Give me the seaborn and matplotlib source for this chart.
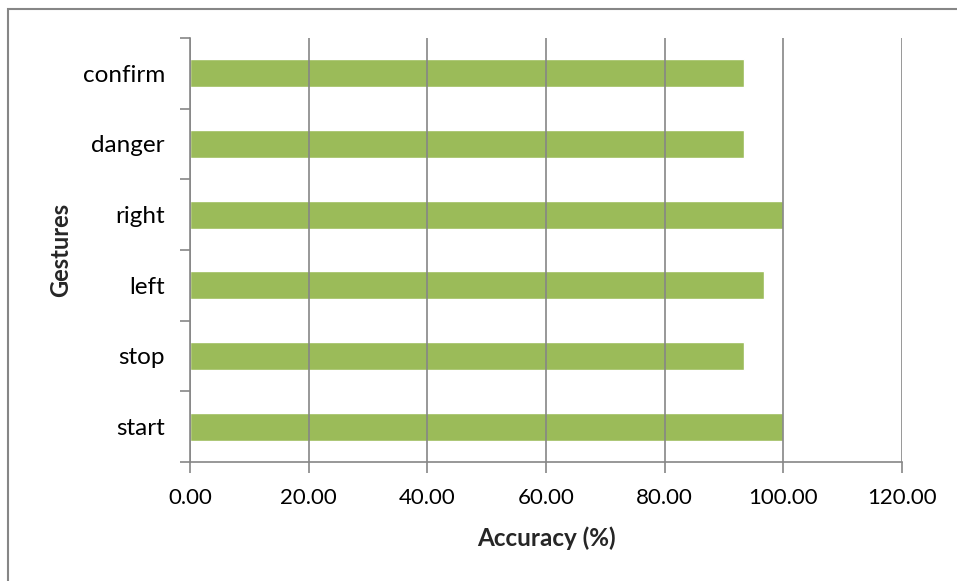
import matplotlib
matplotlib.use("Agg")
import matplotlib.pyplot as plt
import seaborn as sns
import pandas as pd
import numpy as np
from matplotlib.patches import Rectangle
from matplotlib.ticker import FixedLocator

gestures = ["confirm", "danger", "right", "left", "stop", "start"]
accuracy = [93.33, 93.33, 100.0, 96.67, 93.33, 100.0]
x_ticks = [0, 20, 40, 60, 80, 100, 120]

sns.set_theme(style="white")
plt.rcParams['font.family'] = ['Lato', 'DejaVu Sans']

df = pd.DataFrame({"Gesture": gestures, "Accuracy": accuracy})

fig = plt.figure(figsize=(9.57, 5.81), dpi=100)
ax = fig.add_axes([190/957, 1-462/581, (902-190)/957, (462-38)/581])

grey = "#868686"
sns.barplot(data=df, y="Gesture", x="Accuracy", order=gestures, color="#9BBB59",
            saturation=1, width=0.4, ax=ax, zorder=1)

ax.set_xlim(0, 120)
ax.set_ylim(5.5, -0.5)
ax.set_xticks(x_ticks)
ax.set_xticklabels([f"{v:.2f}" for v in x_ticks], fontsize=16, color="black")
ax.tick_params(axis='y', labelsize=17.5, labelcolor="black", length=0, pad=18)
ax.tick_params(axis='x', length=8, color=grey, width=1.2, pad=11, direction='out', bottom=True)
ax.xaxis.grid(True, color=grey, linewidth=1.2, zorder=2)
ax.set_axisbelow(False)
for b in ax.patches:
    b.set_zorder(1)
for s in ["top", "right"]:
    ax.spines[s].set_visible(False)
for s in ["left", "bottom"]:
    ax.spines[s].set_color(grey)
    ax.spines[s].set_linewidth(1.2)

# category boundary ticks on y axis
ax.yaxis.set_minor_locator(FixedLocator(np.arange(-0.5, 6.0, 1.0)))
ax.tick_params(axis='y', which='minor', length=7, color=grey, width=1.2, left=True)

ax.set_xlabel("Accuracy (%)", fontsize=17.5, fontweight="bold")
ax.set_ylabel("Gestures", fontsize=17, fontweight="bold")
ax.xaxis.set_label_coords(0.5, -0.151)
ax.yaxis.set_label_coords(-0.166, 0.5)

fig.patches.append(Rectangle((8/957, -0.1), 1.2, 1 - 9/581 + 0.1, transform=fig.transFigure,
                             fill=False, edgecolor=grey, linewidth=1.5))

fig.savefig("out.png", dpi=100)
